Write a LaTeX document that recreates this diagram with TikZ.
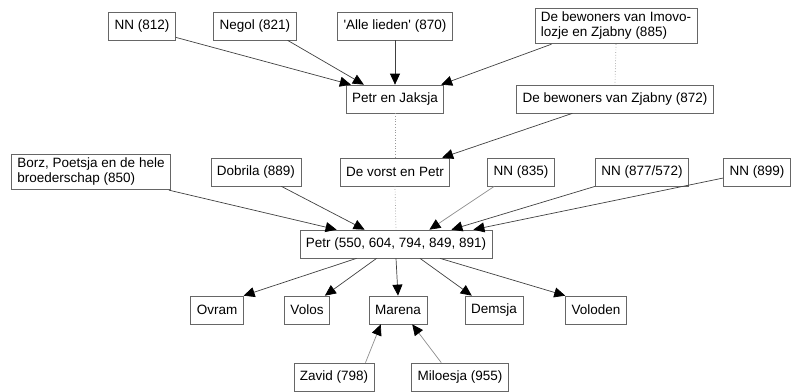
\documentclass[tikz,border=0pt]{standalone}
\usepackage{fontspec}
\setmainfont{Liberation Sans}
\usetikzlibrary{arrows.meta,positioning,calc}

\begin{document}
\begin{tikzpicture}[x=1pt,y=-1pt,>={Triangle[length=11pt,width=10pt,color=black]},
    box/.style={draw=black!60,line width=0.7pt,fill=white,minimum height=28pt,
      inner xsep=6pt,inner ysep=2pt,font=\fontsize{13.5}{15}\selectfont},
    box2/.style={box,align=left,inner ysep=4pt},
    link/.style={->,draw=black!75,line width=0.7pt},
    weak/.style={draw=black!40,line width=0.7pt,dotted}]
  \useasboundingbox (0,0) rectangle (792,391);
  % top row
  \node[box] (nn812) at (142,26) {NN (812)};
  \node[box] (negol) at (255,26) {Negol (821)};
  \node[box] (alle) at (395,26) {\textquotesingle Alle lieden\textquotesingle{} (870)};
  \node[box2] (imovo) at (616,26) {De bewoners van Imovo-\\lozje en Zjabny (885)};
  \node[box] (pj) at (395,99) {Petr en Jaksja};
  \node[box] (zjabny) at (615,99) {De bewoners van Zjabny (872)};
  % middle row
  \node[box2] (borz) at (91,172) {Borz, Poetsja en de hele\\broederschap (850)};
  \node[box] (dobrila) at (256,172) {Dobrila (889)};
  \node[box] (vorst) at (395,172) {De vorst en Petr};
  \node[box] (nn835) at (521,172) {NN (835)};
  \node[box] (nn877) at (642,172) {NN (877/572)};
  \node[box] (nn899) at (757,172) {NN (899)};
  \node[box] (petr) at (396,244) {Petr (550, 604, 794, 849, 891)};
  % bottom rows
  \node[box] (ovram) at (217,310) {Ovram};
  \node[box] (volos) at (307,310) {Volos};
  \node[box] (marena) at (398,310) {Marena};
  \node[box] (demsja) at (494,310) {Demsja};
  \node[box] (voloden) at (596,310) {Voloden};
  \node[box] (zavid) at (334,377) {Zavid (798)};
  \node[box] (miloesja) at (460,377) {Miloesja (955)};

  \draw[link] ([yshift=3pt]nn812.south east) -- ([xshift=5pt]pj.north west);
  \draw[link] ([xshift=-9pt]negol.south east) -- ([xshift=18pt]pj.north west);
  \draw[link] (alle.south) -- (pj.north);
  \draw[link] ([xshift=17pt]imovo.south west) -- ([xshift=-3pt]pj.north east);
  \draw[weak] (imovo.south) -- (zjabny.north);
  \draw[weak] (pj.south) -- (vorst.north);
  \draw[link] ([xshift=56pt]zjabny.south west) -- ([xshift=-8pt]vorst.north east);
  \draw[weak] (vorst.south) -- (petr.north);

  \draw[link] ([xshift=-2pt]borz.south east) -- ([xshift=37pt]petr.north west);
  \draw[link] ([xshift=-20pt]dobrila.south east) -- ([xshift=65pt]petr.north west);
  \draw[link,draw=black!45] ([xshift=7pt]nn835.south west) -- ([xshift=-63pt]petr.north east);
  \draw[link] (nn877.south west) -- ([xshift=-41pt]petr.north east);
  \draw[link] ([yshift=-6pt]nn899.west) -- ([xshift=-19pt]petr.north east);

  \draw[link] ([xshift=57pt]petr.south west) -- (ovram.north east);
  \draw[link] ([xshift=77pt]petr.south west) -- ([xshift=-5pt]volos.north east);
  \draw[link] (petr.south) -- (marena.north);
  \draw[link] ([xshift=24pt]petr.south) -- ([xshift=7pt]demsja.north west);
  \draw[link] ([xshift=44pt]petr.south) -- (voloden.north west);
  \draw[link,draw=black!45] ([xshift=-9pt]zavid.north east) -- ([xshift=12pt]marena.south west);
  \draw[link,draw=black!45] ([xshift=30pt]miloesja.north west) -- ([xshift=-15pt]marena.south east);
\end{tikzpicture}
\end{document}
